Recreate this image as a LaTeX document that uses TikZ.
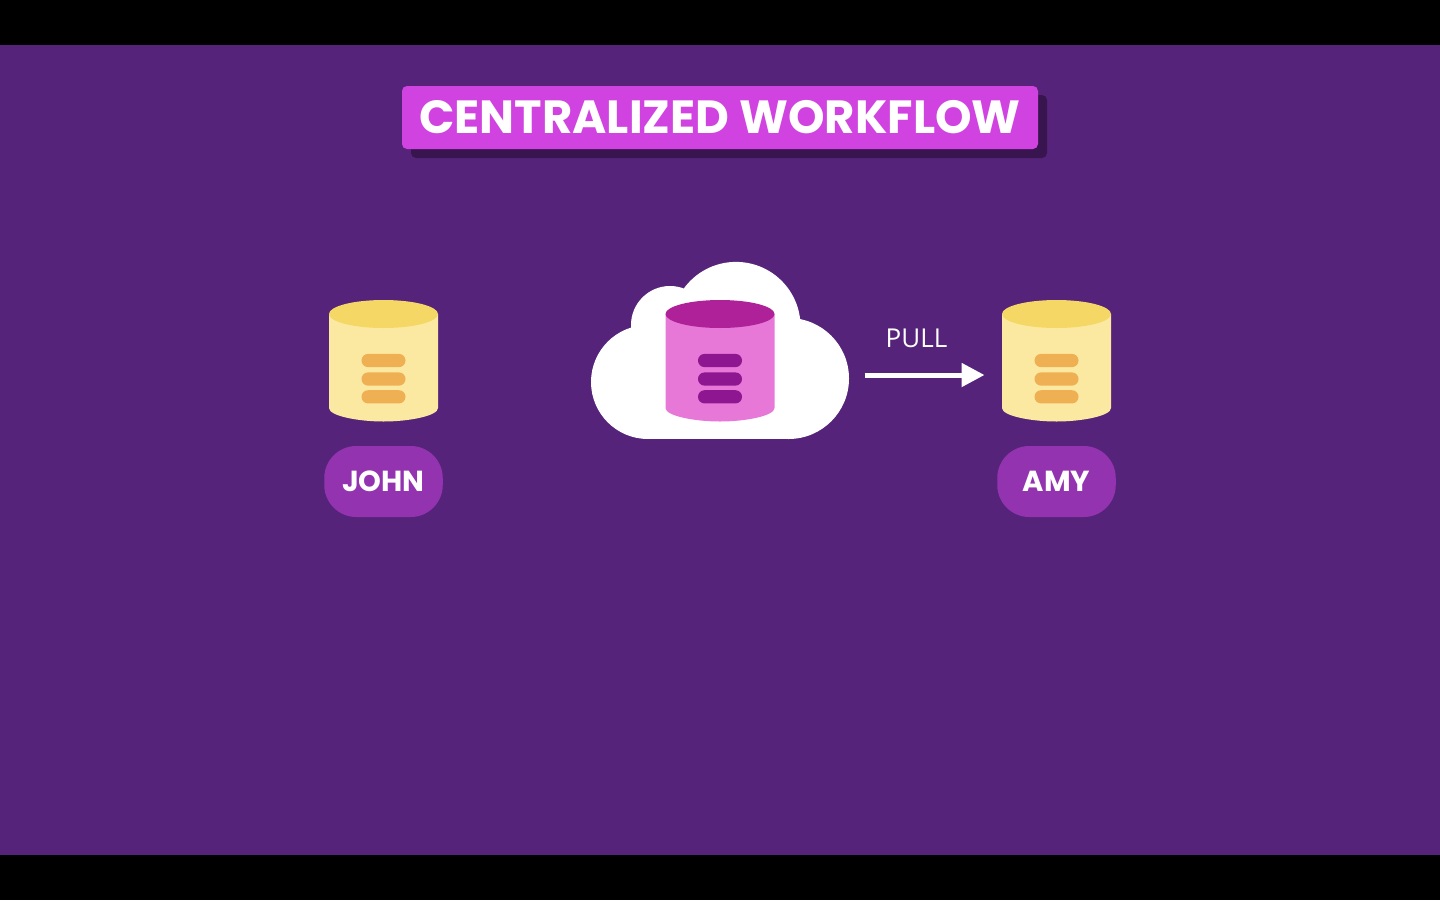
\documentclass[tikz,border=0pt]{standalone}
\usepackage{fontspec}
\setmainfont{Poppins}
\newfontfamily\pullfont{Open Sans}
\usetikzlibrary{arrows.meta,calc}
\definecolor{bgpurple}{HTML}{56237A}
\definecolor{titlepink}{HTML}{D043E0}
\definecolor{shadowpurple}{HTML}{38154F}
\definecolor{pillpurple}{HTML}{9333B0}
\definecolor{yeltop}{HTML}{F4D765}
\definecolor{yelbody}{HTML}{FBE9A2}
\definecolor{yelbar}{HTML}{EFB053}
\definecolor{pinktop}{HTML}{AF2199}
\definecolor{pinkbody}{HTML}{E778D8}
\definecolor{pinkbar}{HTML}{8E1690}
\tikzset{
  x=1pt,y=-1pt,
  pillbox/.style={fill=pillpurple,rounded corners=32pt,minimum width=118.5pt,minimum height=71pt,inner sep=0pt,outer sep=0pt,anchor=center},
  pilltext/.style={text=white,font=\bfseries\fontsize{29}{29}\selectfont,inner sep=0pt,anchor=base},
  ghost/.style={inner sep=0pt,outer sep=0pt,anchor=center},
  pics/dbcyl/.style n args={3}{code={
    \fill[#2] (-54.5,14) -- (54.5,14) -- (54.5,108) .. controls (54.5,116) and (25,121.5) .. (0,121.5) .. controls (-25,121.5) and (-54.5,116) .. (-54.5,108) -- cycle;
    \fill[#1] (0,14) ellipse [x radius=54.5,y radius=14];
    \foreach \yy in {60.5,79,96.8}{
      \fill[#3,rounded corners=6.5pt] (-22,\yy-6.6) rectangle (22,\yy+6.6);
    }
  }}
}
\begin{document}
\begin{tikzpicture}
\useasboundingbox (0,0) rectangle (1440,900);
\fill[black] (0,0) rectangle (1440,900);
\fill[bgpurple] (0,45) rectangle (1440,855);
% title
\fill[shadowpurple,rounded corners=5pt] (411,95) rectangle (1047,158);
\node[fill=titlepink,rounded corners=5pt,minimum width=636pt,minimum height=63pt,inner sep=0pt,outer sep=0pt,anchor=center] (titlebox) at (720,117.5) {};
\node[text=white,font=\bfseries\fontsize{46.5}{46.5}\selectfont,inner sep=0pt,anchor=base] (titletext) at (720,133.5) {CENTRALIZED WORKFLOW};
% cloud
\fill[white] (648,382) circle [radius=57];
\fill[white] (670,325) circle [radius=39];
\fill[white] (736,326.4) circle [radius=64.5];
\fill[white] (788.5,378.5) circle [radius=60.5];
\fill[white] (648,340) rectangle (790,439);
\node[ghost,minimum width=259pt,minimum height=128pt] (cloud) at (719.5,375) {};
% cylinders
\pic at (383.5,300) {dbcyl={yeltop}{yelbody}{yelbar}};
\pic at (720,300) {dbcyl={pinktop}{pinkbody}{pinkbar}};
\pic at (1056.5,300) {dbcyl={yeltop}{yelbody}{yelbar}};
\node[ghost,minimum width=109pt,minimum height=94pt] (amydb) at (1056.5,375) {};
% labels
\node[pillbox] (john) at (383.5,481.5) {};
\node[pilltext] (johntext) at (383.5,491.5) {JOHN};
\node[pillbox] (amy) at (1056.5,481.5) {};
\node[pilltext] (amytext) at (1056.5,491.5) {AMY};
% arrow
\draw[white,line width=5pt,-{Triangle[length=23pt,width=23pt]},shorten <=15.5pt,shorten >=17.5pt] (cloud.east) -- (amydb.west);
\node[text=white,font=\pullfont\fontsize{26}{26}\selectfont,inner sep=0pt,anchor=base] (pull) at (916.5,347) {PULL};
\end{tikzpicture}
\end{document}
